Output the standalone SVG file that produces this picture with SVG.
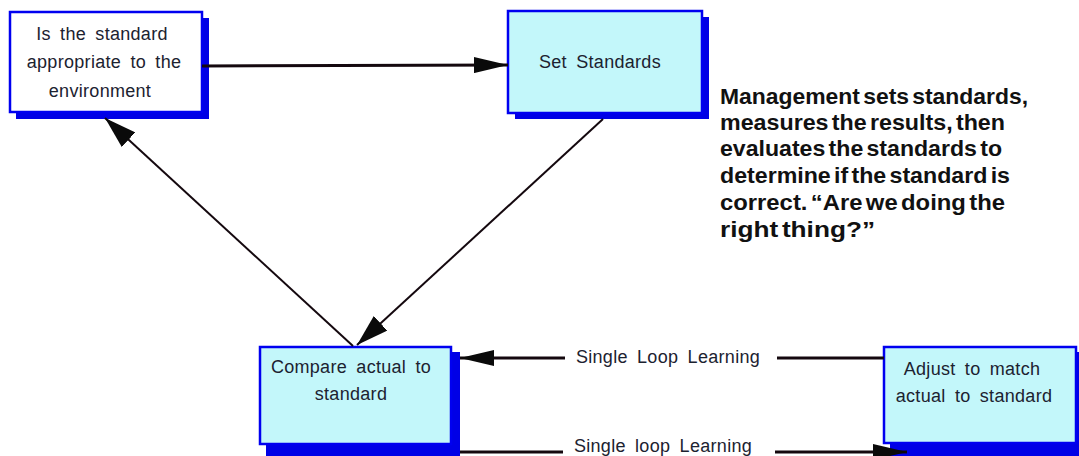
<svg xmlns="http://www.w3.org/2000/svg" width="1079" height="456" viewBox="0 0 1079 456">
  <style>
    .shadow { fill: #0000e6; stroke: none; }
    .box { stroke: #0000f0; stroke-width: 2.5; }
    .white { fill: #ffffff; }
    .cyan { fill: #c3f7fa; }
    .lbl { font-family: "Liberation Sans", Arial, sans-serif; font-size: 18px; fill: #1c2230; text-anchor: middle; letter-spacing: 0.3px; word-spacing: 4px; }
    .conn { stroke: #14080e; fill: none; }
    .note { font-family: "Liberation Sans", Arial, sans-serif; font-size: 22px; font-weight: bold; fill: #111111; word-spacing: -3px; }
  </style>
  <defs>
    <marker id="ah" markerUnits="userSpaceOnUse" viewBox="0 0 34 16" refX="34" refY="8" markerWidth="34" markerHeight="16" orient="auto">
      <path d="M0,0 L34,8 L0,16 z" fill="#0a0a0a"/>
    </marker>
    <marker id="ahd" markerUnits="userSpaceOnUse" viewBox="0 0 32 20" refX="32" refY="10" markerWidth="32" markerHeight="20" orient="auto">
      <path d="M0,0 L32,10 L0,20 z" fill="#0a0a0a"/>
    </marker>
  </defs>
  <rect width="1079" height="456" fill="#ffffff"/>

  <g id="node-appropriate">
    <rect class="shadow" x="16" y="18" width="193" height="101"/>
    <rect class="box white" x="10" y="12" width="192" height="100"/>
    <text class="lbl" x="102" y="40">Is the standard</text>
    <text class="lbl" x="104" y="68">appropriate  to the</text>
    <text class="lbl" x="100" y="97">environment</text>
  </g>

  <g id="node-set-standards">
    <rect class="shadow" x="515" y="17" width="194" height="102"/>
    <rect class="box cyan" x="508" y="11" width="194" height="102"/>
    <text class="lbl" x="600" y="68">Set Standards</text>
  </g>

  <g id="node-compare">
    <rect class="shadow" x="266" y="352" width="194" height="110"/>
    <rect class="box cyan" x="260" y="347" width="191" height="97"/>
    <text class="lbl" x="351" y="373">Compare  actual  to</text>
    <text class="lbl" x="351" y="400">standard</text>
  </g>

  <g id="node-adjust">
    <rect class="shadow" x="890" y="352" width="195" height="110"/>
    <rect class="box cyan" x="884" y="347" width="192" height="96"/>
    <text class="lbl" x="972" y="375">Adjust  to match</text>
    <text class="lbl" x="974" y="402">actual  to standard</text>
  </g>

  <g id="note">
    <text class="note" x="720" y="104" textLength="308" lengthAdjust="spacingAndGlyphs">Management sets standards,</text>
    <text class="note" x="720" y="130" textLength="285" lengthAdjust="spacingAndGlyphs">measures the results, then</text>
    <text class="note" x="720" y="156" textLength="282" lengthAdjust="spacingAndGlyphs">evaluates the standards to</text>
    <text class="note" x="720" y="183" textLength="290" lengthAdjust="spacingAndGlyphs">determine if the standard is</text>
    <text class="note" x="720" y="210" textLength="285" lengthAdjust="spacingAndGlyphs">correct.  “Are we doing the</text>
    <text class="note" x="720" y="237" textLength="155" lengthAdjust="spacingAndGlyphs">right thing?”</text>
  </g>

  <g id="connectors">
    <line class="conn" x1="202" y1="66" x2="508" y2="65" stroke-width="3" marker-end="url(#ah)"/>
    <line class="conn" x1="603" y1="119" x2="357" y2="345" stroke-width="2" marker-end="url(#ahd)"/>
    <line class="conn" x1="353" y1="346" x2="105" y2="118" stroke-width="2" marker-end="url(#ahd)"/>
    <line class="conn" x1="884" y1="358" x2="777" y2="358" stroke-width="3"/>
    <line class="conn" x1="565" y1="358" x2="460" y2="358" stroke-width="3" marker-end="url(#ah)"/>
    <text class="lbl" x="668" y="363">Single Loop Learning</text>
    <line class="conn" x1="460" y1="452" x2="563" y2="452" stroke-width="3"/>
    <text class="lbl" x="663" y="452">Single loop Learning</text>
    <line class="conn" x1="775" y1="452" x2="907" y2="452" stroke-width="3" marker-end="url(#ah)"/>
  </g>
</svg>
